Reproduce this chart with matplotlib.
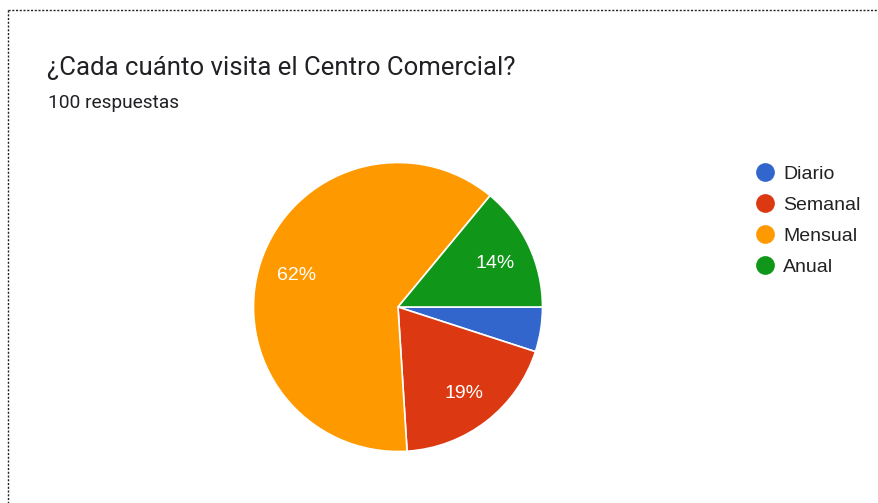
import matplotlib
matplotlib.use("Agg")
import matplotlib.pyplot as plt
from matplotlib.lines import Line2D

plt.rcParams['font.family'] = ['Roboto', 'DejaVu Sans']

title = "¿Cada cuánto visita el Centro Comercial?"
subtitle = "100 respuestas"
categories = ["Diario", "Semanal", "Mensual", "Anual"]
percentages = [5, 19, 62, 14]
colors = ["#3366cc", "#dc3912", "#ff9900", "#109618"]

W, H = 879, 503
fig = plt.figure(figsize=(W / 100, H / 100), dpi=100)
ax = fig.add_axes([0, 0, 1, 1])

cx, cy, r = 398, H - 307, 144.5
chart_font = ['Liberation Sans', 'DejaVu Sans']

wedges, texts, autotexts = ax.pie(
    percentages,
    colors=colors,
    startangle=0,
    counterclock=False,
    center=(cx, cy),
    radius=r,
    autopct=lambda p: f"{p:.0f}%" if p >= 10 else "",
    pctdistance=0.74,
    wedgeprops=dict(edgecolor="white", linewidth=1.2),
    textprops=dict(color="white", fontsize=14, family=chart_font),
)
for t in autotexts:
    t.set_va("center_baseline")
ax.set_xlim(0, W)
ax.set_ylim(0, H)
ax.set_aspect("equal")
ax.axis("off")

# title and subtitle
fig.text(47 / W, 1 - 75.5 / H, title, fontsize=18.5, color="#202124",
         va="baseline", ha="left")
fig.text(48 / W, 1 - 108 / H, subtitle, fontsize=13.8, color="#202124",
         va="baseline", ha="left")

# legend
for i, (lab, col) in enumerate(zip(categories, colors)):
    y = 172 + 31 * i
    ax.plot([765], [H - y], marker="o", markersize=13.5, color=col,
            markeredgewidth=0, clip_on=False)
    ax.text(783, H - y, lab, fontsize=14, color="#222222",
            va="center_baseline", ha="left", family=chart_font)

# dotted frame (top and left edges)
dash = dict(color="#222222", linewidth=1.0, linestyle=(0, (1.5, 1.2)))
fig.add_artist(Line2D([8 / W, 1.0], [1 - 10 / H, 1 - 10 / H],
                      transform=fig.transFigure, **dash))
fig.add_artist(Line2D([8 / W, 8 / W], [1 - 10 / H, 0.0],
                      transform=fig.transFigure, **dash))

fig.savefig("out.png", dpi=100, facecolor="white")
